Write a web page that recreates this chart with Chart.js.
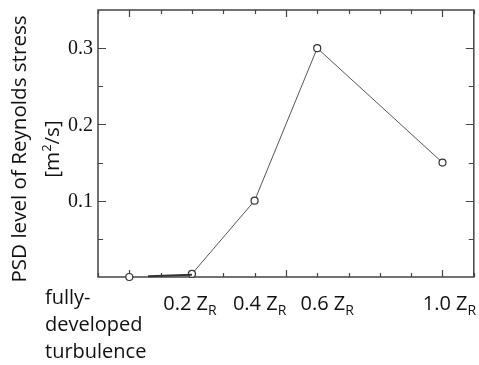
<!DOCTYPE html>
<html>
<head>
<meta charset="utf-8">
<script src="https://cdn.jsdelivr.net/npm/chart.js@4.4.0/dist/chart.umd.min.js"></script>
<style>
  body { margin: 0; background: #fff; }
  #wrap { width: 479px; height: 365px; }
</style>
</head>
<body>
<div id="wrap"><canvas id="graficoPSD"></canvas></div>
<script>
// Dados
const refPosicao = [0];            // fully-developed turbulence
const refValor = [0];
const zPosicoes = [0.2, 0.4, 0.6, 1.0];
const psdValores = [0.004, 0.1, 0.3, 0.15];
const trechoX = [0.06, 0.2];       // pequeno trecho sobre o eixo
const trechoY = [0.001, 0.003];
const rotulosX = ['0.2', '0.4', '0.6', '1.0'];
const rotulosY = [0.1, 0.2, 0.3];
const rotuloEsquerda = ['fully-', 'developed', 'turbulence'];

const SANS = '"Open Sans", sans-serif';

// desenha texto com partes (subscrito / sobrescrito)
function textoRico(ctx, partes, x, y) {
  let largura = 0;
  partes.forEach(p => { ctx.font = p.font; largura += ctx.measureText(p.t).width; });
  let cx = x - largura / 2;
  partes.forEach(p => {
    ctx.font = p.font;
    ctx.fillText(p.t, cx, y + (p.dy || 0));
    cx += ctx.measureText(p.t).width;
  });
}

const eixosPlugin = {
  id: 'eixos',
  beforeDatasetsDraw(chart) {
    const { ctx, chartArea: a, scales: { x, y } } = chart;
    ctx.save();
    ctx.strokeStyle = '#444';
    ctx.lineWidth = 1.5;
    ctx.strokeRect(a.left, a.top, a.right - a.left, a.bottom - a.top);

    // marcas internas (ticks) nos quatro lados
    ctx.lineWidth = 1.2;
    ctx.beginPath();
    for (let i = 0; i <= 12; i++) {
      const v = -0.1 + i * 0.1;
      const px = Math.round(x.getPixelForValue(v)) + 0.5;
      const major = Math.abs(v) < 1e-6 || Math.abs(v - 0.5) < 1e-6 || Math.abs(v - 1) < 1e-6;
      const len = major ? 7 : 4;
      ctx.moveTo(px, a.bottom); ctx.lineTo(px, a.bottom - len);
      ctx.moveTo(px, a.top); ctx.lineTo(px, a.top + len);
    }
    for (let i = 1; i <= 6; i++) {
      const v = i * 0.05;
      const py = Math.round(y.getPixelForValue(v)) + 0.5;
      const len = i % 2 === 0 ? 8 : 5;
      ctx.moveTo(a.left, py); ctx.lineTo(a.left + len, py);
      ctx.moveTo(a.right, py); ctx.lineTo(a.right - len, py);
    }
    ctx.stroke();
    ctx.restore();
  },
  afterDraw(chart) {
    const { ctx, chartArea: a, scales: { x, y } } = chart;
    ctx.save();
    ctx.fillStyle = '#111';

    // rótulos do eixo y
    ctx.font = '20px "Liberation Serif", serif';
    ctx.textAlign = 'right';
    ctx.textBaseline = 'middle';
    rotulosY.forEach(v => ctx.fillText(v.toFixed(1), a.left - 5, y.getPixelForValue(v) + 1));

    // rótulos do eixo x com subscrito
    ctx.textAlign = 'left';
    ctx.textBaseline = 'alphabetic';
    const ajuste = [-2, 5, 10, 7];
    rotulosX.forEach((t, i) => {
      textoRico(ctx, [
        { t: t + ' Z', font: '20px ' + SANS },
        { t: 'R', font: '14px ' + SANS, dy: 5 }
      ], x.getPixelForValue(zPosicoes[i]) + ajuste[i], a.bottom + 33);
    });

    // texto da referência à esquerda
    ctx.font = '20px ' + SANS;
    rotuloEsquerda.forEach((t, i) => ctx.fillText(t, 45, 304 + i * 27));

    // título do eixo y (rotacionado)
    ctx.translate(0, 149);
    ctx.rotate(-Math.PI / 2);
    ctx.textBaseline = 'middle';
    textoRico(ctx, [{ t: 'PSD level of Reynolds stress', font: '20.6px ' + SANS }], 0, 20);
    textoRico(ctx, [
      { t: '[m', font: '20.6px ' + SANS },
      { t: '2', font: '13px ' + SANS, dy: -6 },
      { t: '/s]', font: '20.6px ' + SANS }
    ], 0, 53);
    ctx.restore();
  }
};

const ctxPSD = document.getElementById('graficoPSD');

new Chart(ctxPSD, {
  type: 'scatter',
  data: {
    datasets: [
      {
        data: trechoX.map((v, i) => ({ x: v, y: trechoY[i] })),
        showLine: true,
        borderColor: '#333',
        borderWidth: 2,
        pointRadius: 0,
        clip: false
      },
      {
        data: zPosicoes.map((v, i) => ({ x: v, y: psdValores[i] })),
        showLine: true,
        borderColor: '#555',
        borderWidth: 1,
        pointRadius: 3.5,
        pointBackgroundColor: '#fff',
        pointBorderColor: '#333',
        pointBorderWidth: 1.2,
        clip: false
      },
      {
        data: refPosicao.map((v, i) => ({ x: v, y: refValor[i] })),
        showLine: false,
        pointRadius: 3.5,
        pointBackgroundColor: '#fff',
        pointBorderColor: '#333',
        pointBorderWidth: 1.2,
        clip: false
      }
    ]
  },
  options: {
    responsive: true,
    maintainAspectRatio: false,
    animation: false,
    layout: { padding: { left: 98, top: 10, right: 5, bottom: 88 } },
    scales: {
      x: { type: 'linear', min: -0.1, max: 1.1, display: false },
      y: { type: 'linear', min: 0, max: 0.35, display: false }
    },
    plugins: {
      legend: { display: false },
      tooltip: { enabled: false }
    }
  },
  plugins: [eixosPlugin]
});
</script>
</body>
</html>
